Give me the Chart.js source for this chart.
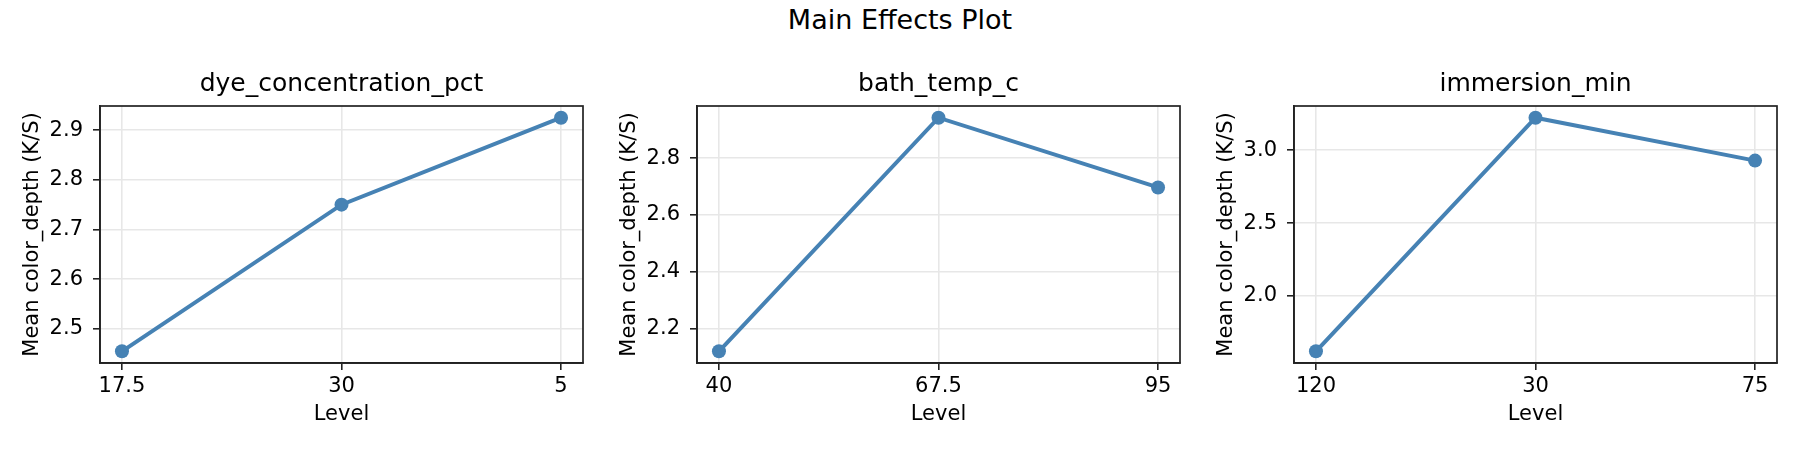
<!DOCTYPE html>
<html>
<head>
<meta charset="utf-8">
<script src="https://cdn.jsdelivr.net/npm/chart.js@4.4.1/dist/chart.umd.min.js"></script>
<style>
  html, body { margin: 0; padding: 0; background: #fff; }
  #fig { position: relative; width: 1800px; height: 450px; overflow: hidden; }
  #suptitle { position: absolute; left: 0; top: 4px; width: 1800px; text-align: center;
    font-family: 'DejaVu Sans', sans-serif; font-size: 27px; line-height: 32px; color: #000; }
  .panel { position: absolute; top: 0; width: 600px; height: 450px; }
</style>
</head>
<body>
<div id="fig">
  <div id="suptitle">Main Effects Plot</div>
  <div class="panel" style="left:0px"><canvas id="c1" width="600" height="450"></canvas></div>
  <div class="panel" style="left:597px"><canvas id="c2" width="600" height="450"></canvas></div>
  <div class="panel" style="left:1194px"><canvas id="c3" width="600" height="450"></canvas></div>
</div>
<script>
// factor names and their levels (in plotted order)
const factors = ['dye_concentration_pct', 'bath_temp_c', 'immersion_min'];
const levelsDye = ['17.5', '30', '5'];
const levelsTemp = ['40', '67.5', '95'];
const levelsTime = ['120', '30', '75'];

// mean response per level
const meansDye = [2.455, 2.750, 2.925];
const meansTemp = [2.119, 2.943, 2.697];
const meansTime = [1.619, 3.224, 2.929];

// y tick labels
const ticksDye = [2.5, 2.6, 2.7, 2.8, 2.9];
const ticksTemp = [2.2, 2.4, 2.6, 2.8];
const ticksTime = [2.0, 2.5, 3.0];

const FONT = "'DejaVu Sans', sans-serif";
const SPINE = '#222';
const GRID = '#e7e7e7';
const LINE = '#4682b4';

Chart.defaults.font.family = FONT;
Chart.defaults.color = '#000';

// matplotlib-style closed frame round the plot area
const boxPlugin = {
  id: 'box',
  afterDatasetsDraw(chart) {
    const a = chart.chartArea, ctx = chart.ctx;
    ctx.save();
    ctx.strokeStyle = SPINE;
    ctx.lineWidth = 1.7;
    ctx.strokeRect(a.left, a.top, a.right - a.left, a.bottom - a.top);
    ctx.restore();
  }
};

function drawPanel(id, title, levels, means, yTicks) {
  const lo = Math.min(...means), hi = Math.max(...means);
  const pad = (hi - lo) * 0.05;
  new Chart(document.getElementById(id), {
    type: 'line',
    data: {
      datasets: [{
        data: means.map((v, i) => ({ x: i, y: v })),
        borderColor: LINE, backgroundColor: LINE,
        borderWidth: 4, pointRadius: 7, pointHoverRadius: 7, pointBorderWidth: 0,
        pointBackgroundColor: LINE, pointBorderColor: LINE, tension: 0
      }]
    },
    options: {
      responsive: false, animation: false, devicePixelRatio: 1,
      layout: { padding: { left: 0, right: 17, top: 0, bottom: 0 } },
      plugins: {
        legend: { display: false }, tooltip: { enabled: false },
        title: {
          display: true, text: title, color: '#000', fullSize: false,
          font: { size: 25, weight: 'normal' },
          padding: { top: 69, bottom: 7 }
        }
      },
      scales: {
        x: {
          type: 'linear', min: -0.1, max: levels.length - 0.9,
          afterBuildTicks: ax => { ax.ticks = levels.map((_, i) => ({ value: i })); },
          afterFit: ax => { ax.height = 87; },
          ticks: { callback: v => levels[v], font: { size: 21 }, padding: 4, maxRotation: 0 },
          grid: { color: GRID, lineWidth: 1.6, tickColor: SPINE, tickLength: 7, tickWidth: 1.6 },
          border: { display: true, color: SPINE, width: 1.7 },
          title: { display: true, text: 'Level', font: { size: 21 }, padding: { bottom: 23 } }
        },
        y: {
          min: lo - pad, max: hi + pad,
          afterBuildTicks: ax => { ax.ticks = yTicks.map(v => ({ value: v })); },
          afterFit: ax => { ax.width = 100; },
          ticks: { callback: v => v.toFixed(1), font: { size: 21 }, padding: 10 },
          grid: { color: GRID, lineWidth: 1.6, tickColor: SPINE, tickLength: 7, tickWidth: 1.6 },
          border: { display: true, color: SPINE, width: 1.7 },
          title: { display: true, text: 'Mean color_depth (K/S)', font: { size: 21 }, padding: { top: 20 } }
        }
      }
    },
    plugins: [boxPlugin]
  });
}

drawPanel('c1', factors[0], levelsDye, meansDye, ticksDye);
drawPanel('c2', factors[1], levelsTemp, meansTemp, ticksTemp);
drawPanel('c3', factors[2], levelsTime, meansTime, ticksTime);
</script>
</body>
</html>
